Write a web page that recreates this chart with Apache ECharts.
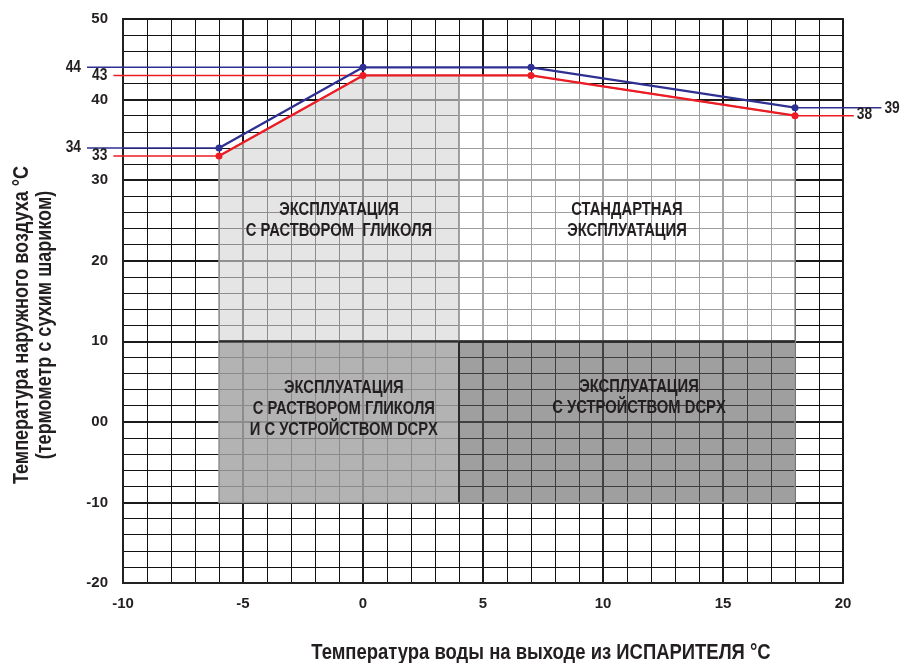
<!DOCTYPE html>
<html>
<head>
<meta charset="utf-8">
<title>Рабочий диапазон</title>
<script src="https://cdn.jsdelivr.net/npm/echarts@6/dist/echarts.min.js"></script>
<style>
  html, body { margin: 0; padding: 0; background: #fff; }
  #chart { width: 901px; height: 663px; }
</style>
</head>
<body>
<div id="chart"></div>
<script>
// Operating envelope: outdoor dry-bulb air temperature vs evaporator leaving water temperature

// Limit curves (x = leaving water temperature, y = outdoor air temperature)
const waterTemp      = [-6, 0, 7, 18];
const airLimitUpper  = [34, 44, 44, 39];   // blue limit
const airLimitLower  = [33, 43, 43, 38];   // red limit

// Axis ticks and their labels
const xTicks      = [-10, -5, 0, 5, 10, 15, 20];
const xTickLabels = ['-10', '-5', '0', '5', '10', '15', '20'];
const yTicks      = [-20, -10, 0, 10, 20, 30, 40, 50];
const yTickLabels = ['-20', '-10', '00', '10', '20', '30', '40', '50'];

// Operating zones
const zoneLabels = [
  'ЭКСПЛУАТАЦИЯ\nС РАСТВОРОМ  ГЛИКОЛЯ',
  'СТАНДАРТНАЯ\nЭКСПЛУАТАЦИЯ',
  'ЭКСПЛУАТАЦИЯ\nС РАСТВОРОМ ГЛИКОЛЯ\nИ С УСТРОЙСТВОМ DCPX',
  'ЭКСПЛУАТАЦИЯ\nС УСТРОЙСТВОМ DCPX'
];
const zoneXFrom = [-6, 4, -6, 4];
const zoneXTo   = [4, 18, 4, 18];
const zoneYFrom = [10, 10, -10, -10];
const zoneYTo   = [null, null, 10, 10];   // null: zone is capped by the lower limit curve

const titleX = 'Температура воды на выходе из ИСПАРИТЕЛЯ °C';
const titleY = 'Температура наружного воздуха °C\n(термометр с сухим шариком)';

// ---- styling ----
const FONT = '"Liberation Sans", Arial, sans-serif';
const NARROW = 0.82;             // horizontal squeeze for a narrow face
const BLUE = '#2e3192';
const RED = '#ed1c24';
const INK = '#231f20';

// zone overlays are translucent so that the grid below shows through, greyed
const zoneFill   = ['rgba(214,214,214,0.63)', 'rgba(255,255,255,0.6)', 'rgba(164,164,164,0.83)', 'rgba(92,92,92,0.59)'];
const zoneStroke = 'rgba(150,150,150,1)';
const zoneLabelAt = [[-1, 25], [11, 25], [-0.8, 1.6], [11.5, 3]];

// leader lines that carry the limit values out past the plot edges (data units)
const leaderLeftUpper = -11.5, leaderLeftLower = -10.4;
const leaderRightUpper = 21.6, leaderRightLower = 20.45;
const leaders = [
  { y: airLimitUpper[1], from: leaderLeftUpper,  to: waterTemp[1], color: BLUE, side: 'left',  dy: 0 },
  { y: airLimitLower[1], from: leaderLeftLower,  to: waterTemp[1], color: RED,  side: 'left',  dy: 0 },
  { y: airLimitUpper[0], from: leaderLeftUpper,  to: waterTemp[0], color: BLUE, side: 'left',  dy: 0 },
  { y: airLimitLower[0], from: leaderLeftLower,  to: waterTemp[0], color: RED,  side: 'left',  dy: 0 },
  { y: airLimitUpper[3], from: leaderRightUpper, to: waterTemp[3], color: BLUE, side: 'right', dy: 0.5 },
  { y: airLimitLower[3], from: leaderRightLower, to: waterTemp[3], color: RED,  side: 'right', dy: -1 }
];

function lowerLimitAt(x) {
  for (let i = 0; i < waterTemp.length - 1; i++) {
    const x0 = waterTemp[i], x1 = waterTemp[i + 1];
    if (x >= x0 && x <= x1) {
      const t = (x - x0) / (x1 - x0);
      return airLimitLower[i] + t * (airLimitLower[i + 1] - airLimitLower[i]);
    }
  }
  return airLimitLower[airLimitLower.length - 1];
}

function zonePolygon(i) {
  const x0 = zoneXFrom[i], x1 = zoneXTo[i], yb = zoneYFrom[i];
  if (zoneYTo[i] !== null) {
    const yt = zoneYTo[i];
    return [[x0, yb], [x0, yt], [x1, yt], [x1, yb]];
  }
  const pts = [[x0, yb], [x0, lowerLimitAt(x0)]];
  waterTemp.forEach(function (x, k) {
    if (x > x0 && x < x1) pts.push([x, airLimitLower[k]]);
  });
  pts.push([x1, lowerLimitAt(x1)], [x1, yb]);
  return pts;
}

function limitSeries(values, color) {
  return {
    type: 'line',
    data: waterTemp.map(function (x, i) { return [x, values[i]]; }),
    symbol: 'circle',
    symbolSize: 7,
    lineStyle: { color: color, width: 2.3 },
    itemStyle: { color: color },
    z: 6,
    silent: true,
    animation: false
  };
}

const chart = echarts.init(document.getElementById('chart'), null, { renderer: 'canvas' });

const axisLabelStyle = { fontFamily: FONT, fontWeight: 'bold', fontSize: 15, color: INK };

const option = {
  backgroundColor: '#fff',
  animation: false,
  grid: {
    left: 123, right: 58, top: 19, bottom: 80,
    show: true, borderColor: '#333', borderWidth: 2, backgroundColor: 'transparent'
  },
  xAxis: {
    type: 'value',
    min: xTicks[0], max: xTicks[xTicks.length - 1], interval: 5,
    axisLine: { show: true, onZero: false, lineStyle: { color: '#222', width: 2 } },
    axisTick: { show: false },
    minorTick: { show: false, splitNumber: 5 },
    axisLabel: Object.assign({
      margin: 13,
      formatter: function (v) { const k = xTicks.indexOf(v); return k >= 0 ? xTickLabels[k] : ''; }
    }, axisLabelStyle),
    splitLine: { show: true, lineStyle: { color: '#1a1a1a', width: 2 } },
    minorSplitLine: { show: true, lineStyle: { color: '#111', width: 1 } }
  },
  yAxis: {
    type: 'value',
    min: yTicks[0], max: yTicks[yTicks.length - 1], interval: 10,
    axisLine: { show: true, onZero: false, lineStyle: { color: '#222', width: 2 } },
    axisTick: { show: false },
    minorTick: { show: false, splitNumber: 5 },
    axisLabel: Object.assign({
      margin: 15,
      formatter: function (v) { const k = yTicks.indexOf(v); return k >= 0 ? yTickLabels[k] : ''; }
    }, axisLabelStyle),
    splitLine: { show: true, lineStyle: { color: '#1a1a1a', width: 2 } },
    minorSplitLine: { show: true, lineStyle: { color: '#111', width: 1 } }
  },
  graphic: [
    {
      type: 'text', x: 541, y: 653, scaleX: NARROW,
      style: {
        text: titleX, font: 'bold 22.5px ' + FONT, fill: INK,
        align: 'center', verticalAlign: 'middle'
      }
    },
    {
      type: 'text', x: 33, y: 325, rotation: Math.PI / 2, scaleX: NARROW,
      style: {
        text: titleY, font: 'bold 22px ' + FONT, fill: INK,
        align: 'center', verticalAlign: 'middle', lineHeight: 23
      }
    }
  ],
  series: [
    {
      // shaded operating zones with their captions
      type: 'custom',
      data: zoneLabels.map(function (_, i) { return [i]; }),
      encode: { x: -1, y: -1 },
      z: 2,
      silent: true,
      animation: false,
      renderItem: function (params, api) {
        const i = params.dataIndex;
        const pts = zonePolygon(i).map(function (p) { return api.coord(p); });
        const c = api.coord(zoneLabelAt[i]);
        const children = [
          {
            type: 'polygon',
            shape: { points: pts },
            style: { fill: zoneFill[i], stroke: zoneStroke, lineWidth: 1.5 }
          }
        ];
        if (zoneYTo[i] !== null) {
          // lower zones: dark edge along the 10 °C boundary and the 4 °C split
          const tl = api.coord([zoneXFrom[i], zoneYTo[i]]);
          const tr = api.coord([zoneXTo[i], zoneYTo[i]]);
          children.push({
            type: 'line',
            shape: { x1: tl[0], y1: tl[1], x2: tr[0], y2: tr[1] },
            style: { stroke: '#2a2a2a', lineWidth: 2.2 }
          });
          if (zoneXFrom[i] === zoneXTo[0]) {
            const b = api.coord([zoneXFrom[i], zoneYFrom[i]]);
            children.push({
              type: 'line',
              shape: { x1: tl[0], y1: tl[1], x2: b[0], y2: b[1] },
              style: { stroke: '#2a2a2a', lineWidth: 2 }
            });
          }
        }
        children.push({
          type: 'text', x: c[0], y: c[1], scaleX: NARROW,
          style: {
            text: zoneLabels[i], font: 'bold 18px ' + FONT, fill: INK,
            align: 'center', verticalAlign: 'middle', lineHeight: 21
          }
        });
        return { type: 'group', children: children };
      }
    },
    {
      // leader lines with the limit values written at their outer ends
      type: 'custom',
      data: leaders.map(function (_, i) { return [i]; }),
      encode: { x: -1, y: -1 },
      clip: false,
      z: 5,
      silent: true,
      animation: false,
      renderItem: function (params, api) {
        const l = leaders[params.dataIndex];
        const p0 = api.coord([l.from, l.y]);
        const p1 = api.coord([l.to, l.y]);
        const isLeft = l.side === 'left';
        return {
          type: 'group',
          children: [
            {
              type: 'line',
              shape: { x1: p0[0], y1: p0[1], x2: p1[0], y2: p1[1] },
              style: { stroke: l.color, lineWidth: 1.5 }
            },
            {
              type: 'text',
              x: p0[0] + (isLeft ? -6 : 3), y: p0[1] + l.dy, scaleX: 0.86,
              style: {
                text: String(l.y), font: 'bold 16px ' + FONT, fill: INK,
                align: isLeft ? 'right' : 'left', verticalAlign: 'middle'
              }
            }
          ]
        };
      }
    },
    limitSeries(airLimitUpper, BLUE),
    limitSeries(airLimitLower, RED)
  ]
};

chart.setOption(option);
</script>
</body>
</html>
